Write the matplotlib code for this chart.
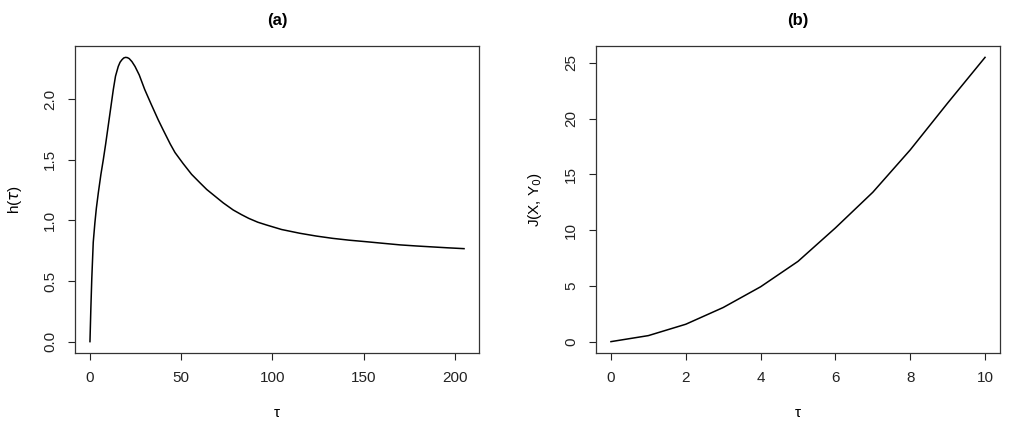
import matplotlib
matplotlib.use("Agg")
import matplotlib.pyplot as plt

# Panel (a): h(tau)
tau_a = [0, 0.5, 1, 1.8, 2.7, 3.5, 4.6, 6, 7.3, 8.6, 10, 11.4, 12.8, 14, 15.5, 16.5,
         17.5, 18.5, 19.5, 20.5, 21.5, 23, 24.7, 27, 30, 33.5, 37.4, 40, 42, 44, 46.6,
         51, 55.7, 60.3, 64, 68.5, 73, 78.5, 83, 87, 92, 96.8, 105, 115, 124, 133,
         142, 151.6, 160, 170, 179, 188, 196, 205]
h_a = [0, 0.28, 0.52, 0.82, 0.98, 1.10, 1.23, 1.38, 1.50, 1.63, 1.78, 1.93, 2.08, 2.19,
       2.27, 2.305, 2.325, 2.34, 2.345, 2.343, 2.335, 2.31, 2.27, 2.20, 2.08, 1.96, 1.83,
       1.75, 1.69, 1.63, 1.56, 1.47, 1.38, 1.31, 1.255, 1.20, 1.145, 1.086, 1.048, 1.017,
       0.985, 0.962, 0.925, 0.894, 0.871, 0.852, 0.837, 0.824, 0.812, 0.798, 0.789, 0.781,
       0.774, 0.767]

# Panel (b): J(X, Y0)
tau_b = [0, 1, 2, 3, 4, 5, 6, 7, 8, 9, 10]
J_b = [0, 0.54, 1.56, 3.06, 4.92, 7.2, 10.2, 13.4, 17.2, 21.4, 25.5]

xticks_a = [0, 50, 100, 150, 200]
yticks_a = [0.0, 0.5, 1.0, 1.5, 2.0]
xticks_b = [0, 2, 4, 6, 8, 10]
yticks_b = [0, 5, 10, 15, 20, 25]

plt.rcParams['font.family'] = ['Liberation Sans', 'DejaVu Sans']

fig = plt.figure(figsize=(10.24, 4.22), dpi=100)
H = 422.0
W = 1024.0
ax1 = fig.add_axes([75 / W, 1 - 353 / H, (479 - 75) / W, (353 - 46) / H])
ax2 = fig.add_axes([596 / W, 1 - 353 / H, (1000 - 596) / W, (353 - 46) / H])


def rlim(vals):
    lo, hi = min(vals), max(vals)
    d = (hi - lo) * 0.04
    return lo - d, hi + d


for ax, x, y, xt, yt, ylab, title, fmt in [
    (ax1, tau_a, h_a, xticks_a, yticks_a, r'h($\tau$)', '(a)', '{:.1f}'),
    (ax2, tau_b, J_b, xticks_b, yticks_b, r'J(X, Y$_0$)', '(b)', '{:g}'),
]:
    ax.plot(x, y, color='black', lw=1.1)
    ax.set_xlim(*rlim(x))
    ax.set_ylim(*rlim(y))
    ax.set_xticks(xt)
    ax.set_yticks(yt)
    ax.set_yticklabels([fmt.format(v) for v in yt], rotation=90, va='center')
    ax.tick_params(direction='out', length=5, width=0.8, labelsize=11, pad=8,
                   colors='#222222')
    for s in ax.spines.values():
        s.set_linewidth(0.9)
        s.set_color('#333333')
    ax.set_xlabel('τ', fontsize=11, labelpad=15)
    ax.set_ylabel(ylab, fontsize=11, labelpad=14)
    ax.set_title(title, fontsize=12, fontweight='bold', pad=15)

fig.savefig('out.png', dpi=100, facecolor='white')
